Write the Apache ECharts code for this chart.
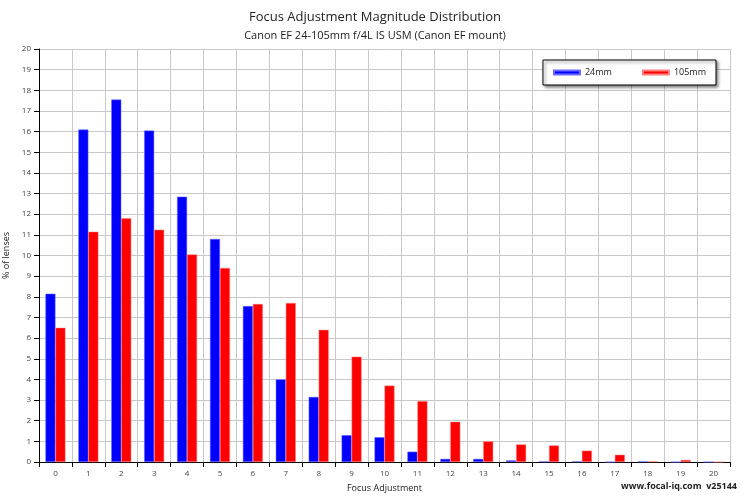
<!DOCTYPE html><html><head><meta charset="utf-8"><script src="https://cdn.jsdelivr.net/npm/echarts@6/dist/echarts.min.js"></script></head><body style="margin:0"><div id="c" style="width:750px;height:500px"></div><script>
const categories=['0','1','2','3','4','5','6','7','8','9','10','11','12','13','14','15','16','17','18','19','20'];
const s24=[8.15,16.1,17.55,16.05,12.85,10.8,7.55,4.0,3.15,1.3,1.2,0.5,0.15,0.15,0.08,0.03,0.03,0,0.03,0,0];
const s105=[6.5,11.15,11.8,11.25,10.05,9.4,7.65,7.7,6.4,5.1,3.7,2.95,1.95,1.0,0.85,0.8,0.55,0.35,0.03,0.1,0];
const F='"Open Sans", sans-serif';
const c=echarts.init(document.getElementById('c'));
c.setOption({animation:false,
title:[{text:'Focus Adjustment Magnitude Distribution',subtext:'Canon EF 24-105mm f/4L IS USM (Canon EF mount)',left:'center',top:6,itemGap:6,textStyle:{fontFamily:F,fontSize:13,fontWeight:'normal',color:'#222'},subtextStyle:{fontFamily:F,fontSize:11,color:'#222'}},
{text:'www.focal-iq.com  v25144',right:8,bottom:4,textStyle:{fontFamily:F,fontSize:9,fontWeight:'bold',color:'#222'}}],
legend:{right:34,top:60,itemWidth:26,itemHeight:4,itemGap:30,padding:[8,10],borderColor:'#000',borderWidth:1,backgroundColor:'#fff',shadowColor:'rgba(0,0,0,0.5)',shadowBlur:3,shadowOffsetX:2,shadowOffsetY:2,textStyle:{fontFamily:F,fontSize:9,color:'#222'},data:[{name:'24mm',icon:'rect'},{name:'105mm',icon:'rect'}]},
grid:{left:39,right:20,top:49,bottom:38,containLabel:false,outerBoundsMode:'none'},
xAxis:{type:'category',data:categories,name:'Focus Adjustment',nameLocation:'middle',nameGap:22,nameTextStyle:{fontFamily:F,fontSize:9,color:'#222'},axisLine:{lineStyle:{color:'#000'}},axisTick:{show:true,lineStyle:{color:'#000'}},axisLabel:{fontFamily:F,fontSize:8,color:'#444'},splitLine:{show:true,lineStyle:{color:'#c8c8c8'}}},
yAxis:{type:'value',min:0,max:20,interval:1,name:'% of lenses',nameLocation:'middle',nameGap:24,nameTextStyle:{fontFamily:F,fontSize:9,color:'#222'},axisLine:{show:true,lineStyle:{color:'#000'}},axisTick:{show:true,lineStyle:{color:'#000'}},axisLabel:{fontFamily:F,fontSize:8,color:'#444'},splitLine:{lineStyle:{color:'#c8c8c8'}}},
series:[{name:'24mm',type:'bar',data:s24,barWidth:10,barGap:'0%',itemStyle:{color:'#0000ff',borderColor:'#6a6aff',borderWidth:0.5}},
{name:'105mm',type:'bar',data:s105,barWidth:10,itemStyle:{color:'#ff0000',borderColor:'#ff8080',borderWidth:0.5}}]});
</script></body></html>
